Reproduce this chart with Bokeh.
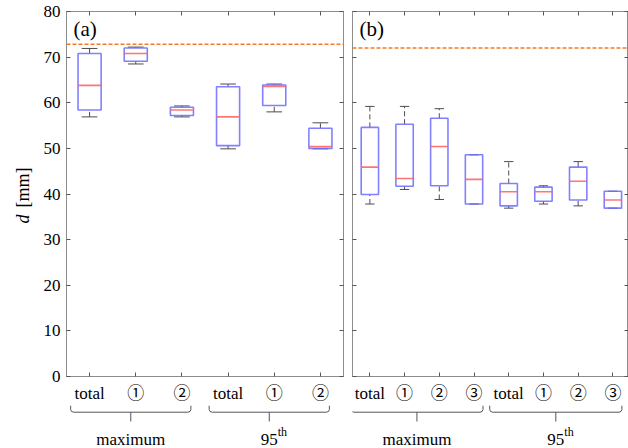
import numpy as np
from bokeh.plotting import figure
from bokeh.models import Range1d, FixedTicker, LinearAxis, Span
from bokeh.layouts import row, column
from bokeh.core.properties import value
from bokeh.embed import file_html
from bokeh.resources import INLINE

# ---------------- data ----------------
y_ticks = [0, 10, 20, 30, 40, 50, 60, 70, 80]

cats_a = ["total", "\u2460", "\u2461", "total", "\u2460", "\u2461"]
groups_a = ["maximum", "95"]
group_members_a = [[1, 3], [4, 6]]
a_wlo = [56.9, 68.5, 56.9, 49.9, 58.0, 49.9]
a_q1 = [58.4, 69.1, 57.2, 50.6, 59.4, 50.0]
a_med = [63.8, 70.8, 58.4, 56.9, 63.6, 50.4]
a_q3 = [70.8, 72.0, 59.0, 63.5, 63.9, 54.4]
a_whi = [71.9, 72.2, 59.3, 64.1, 64.1, 55.6]
a_ref = 72.8

cats_b = ["total", "\u2460", "\u2461", "\u2462", "total", "\u2460", "\u2461", "\u2462"]
groups_b = ["maximum", "95"]
group_members_b = [[1, 4], [5, 8]]
b_wlo = [37.8, 41.0, 38.8, 37.8, 36.9, 37.8, 37.4, 36.9]
b_q1 = [39.9, 41.7, 41.8, 37.8, 37.4, 38.4, 38.7, 36.9]
b_med = [45.9, 43.4, 50.4, 43.2, 40.5, 40.5, 42.8, 38.7]
b_q3 = [54.6, 55.3, 56.6, 48.6, 42.3, 41.5, 45.9, 40.6]
b_whi = [59.2, 59.2, 58.7, 48.6, 47.1, 41.8, 47.1, 40.6]
b_ref = 72.0

# ---------------- style ----------------
FONT = "Liberation Serif"
F_XLAB = "Liberation Serif, Noto Sans CJK JP"
BOX = "#6b6bff"
MED = "#ff6666"
WHISK = "#4d4d4d"
REF = "#f47a2a"
AXIS = "#8c8c8c"
TOTAL_H = 448
TOP_H = 405
STRIP_H = TOTAL_H - TOP_H
YLAB_W = 40


def style_axis(ax, ticks, labels=None, show=True, font=FONT):
    ax.ticker = FixedTicker(ticks=ticks)
    ax.major_tick_in = 4
    ax.major_tick_out = 0
    ax.minor_tick_line_color = None
    ax.axis_line_color = AXIS
    ax.major_tick_line_color = "#555555"
    ax.major_label_text_font = font
    ax.major_label_text_color = "black"
    if show:
        ax.major_label_text_font_size = "17px"
        if labels is not None:
            ax.major_label_overrides = {t: l for t, l in zip(ticks, labels)}
    else:
        ax.major_label_text_font_size = "0px"
        ax.major_label_standoff = 0
        ax.major_label_overrides = {t: "" for t in ticks}


def make_panel(cats, wlo, q1, med, q3, whi, ref, tag, x_end, frame_w,
               border_l, border_r, show_y, groups, members, cap_w):
    n = len(cats)
    xs = np.arange(1, n + 1)
    width = border_l + frame_w + border_r
    p = figure(width=width, height=TOP_H, x_range=Range1d(0.5, x_end),
               y_range=Range1d(0, 80), output_backend="svg",
               toolbar_location=None, min_border_left=border_l,
               min_border_right=border_r, min_border_top=11,
               min_border_bottom=27)
    p.grid.visible = False
    p.outline_line_color = AXIS

    style_axis(p.xaxis[0], list(xs), cats, True, font=F_XLAB)
    p.xaxis[0].major_label_standoff = 7
    style_axis(p.yaxis[0], y_ticks, [str(t) for t in y_ticks], show_y)
    if show_y:
        p.yaxis[0].major_label_standoff = 6

    top_ax = LinearAxis()
    style_axis(top_ax, list(xs), show=False)
    p.add_layout(top_ax, "above")
    right_ax = LinearAxis()
    style_axis(right_ax, y_ticks, show=False)
    p.add_layout(right_ax, "right")

    p.add_layout(Span(location=ref, dimension="width", line_color=REF,
                      line_width=1.5, line_dash="4 2"))

    # whiskers
    p.segment(x0=xs, y0=q3, x1=xs, y1=whi, line_color=WHISK, line_width=1,
              line_dash="5 3")
    p.segment(x0=xs, y0=wlo, x1=xs, y1=q1, line_color=WHISK, line_width=1,
              line_dash="5 3")
    p.segment(x0=xs - cap_w / 2, y0=whi, x1=xs + cap_w / 2, y1=whi,
              line_color=WHISK, line_width=1)
    p.segment(x0=xs - cap_w / 2, y0=wlo, x1=xs + cap_w / 2, y1=wlo,
              line_color=WHISK, line_width=1)
    # boxes
    p.vbar(x=xs, bottom=q1, top=q3, width=0.5, fill_color=None,
           line_color=BOX, line_width=1.6, line_alpha=0.85)
    p.segment(x0=xs - 0.25, y0=med, x1=xs + 0.25, y1=med, line_color=MED,
              line_width=1.6, line_alpha=0.9)

    p.text(x=[0.5], y=[76.2], text=[tag], text_font=value(FONT),
           text_font_size="21px", text_align="left", text_baseline="middle",
           x_offset=7, text_color="black")

    # strip with braces and group names
    s = figure(width=width, height=STRIP_H, x_range=p.x_range,
               y_range=Range1d(STRIP_H, 0), output_backend="svg",
               toolbar_location=None, min_border_left=border_l,
               min_border_right=border_r, min_border_top=0,
               min_border_bottom=0, x_axis_type=None, y_axis_type=None)
    s.grid.visible = False
    s.outline_line_color = None
    ppu = frame_w / (x_end - 0.5)
    r = 3 / ppu
    bx, by = [], []
    cx = []
    for (first, last) in members:
        L = first - 19 / ppu
        R = last + 9 / ppu
        C = (L + R) / 2
        cx.append(C)
        bx.append([L, L, L + 0.3 * r, L + r, R - r, R - 0.3 * r, R, R])
        by.append([0, 4.0, 6.0, 6.7, 6.7, 6.0, 4.0, 0])
        bx.append([C, C])
        by.append([6.7, 16.0])
    s.multi_line(xs=bx, ys=by, line_color="#555555", line_width=1)
    s.text(x=[cx[0]], y=[34.0], text=[groups[0]], text_font=value(FONT),
           text_font_size="17px", text_align="center",
           text_baseline="alphabetic", text_color="black")
    s.text(x=[cx[1]], y=[34.0], text=[groups[1]], text_font=value(FONT),
           text_font_size="17px", text_align="center",
           text_baseline="alphabetic", text_color="black")
    s.text(x=[cx[1]], y=[26.5], text=["th"], text_font=value(FONT),
           text_font_size="12px", text_align="left",
           text_baseline="alphabetic", x_offset=8.5, text_color="black")
    return column(p, s, spacing=0)


# y-axis title strip (d italic)
yl = figure(width=YLAB_W, height=TOTAL_H, x_range=Range1d(0, YLAB_W),
            y_range=Range1d(0, TOTAL_H), output_backend="svg",
            toolbar_location=None, min_border=0, x_axis_type=None,
            y_axis_type=None)
yl.grid.visible = False
yl.outline_line_color = None
yl.text(x=[22], y=[TOTAL_H - 223], text=["d"], angle=np.pi / 2,
        text_font=value(FONT), text_font_size="18px",
        text_font_style="italic", text_align="left", text_baseline="middle",
        text_color="black")
yl.text(x=[22], y=[TOTAL_H - 207], text=["[mm]"], angle=np.pi / 2,
        text_font=value(FONT), text_font_size="18px", text_align="left",
        text_baseline="middle", text_color="black")

col_a = make_panel(cats_a, a_wlo, a_q1, a_med, a_q3, a_whi, a_ref, "(a)",
                   6.5, 278, 65 - YLAB_W, 1, True, groups_a, group_members_a,
                   0.34)
col_b = make_panel(cats_b, b_wlo, b_q1, b_med, b_q3, b_whi, b_ref, "(b)",
                   8.45, 276, 8, 0, False, groups_b, group_members_b, 0.27)

layout = row(yl, col_a, col_b, spacing=0)
open("out.html", "w").write(file_html(layout, INLINE))
